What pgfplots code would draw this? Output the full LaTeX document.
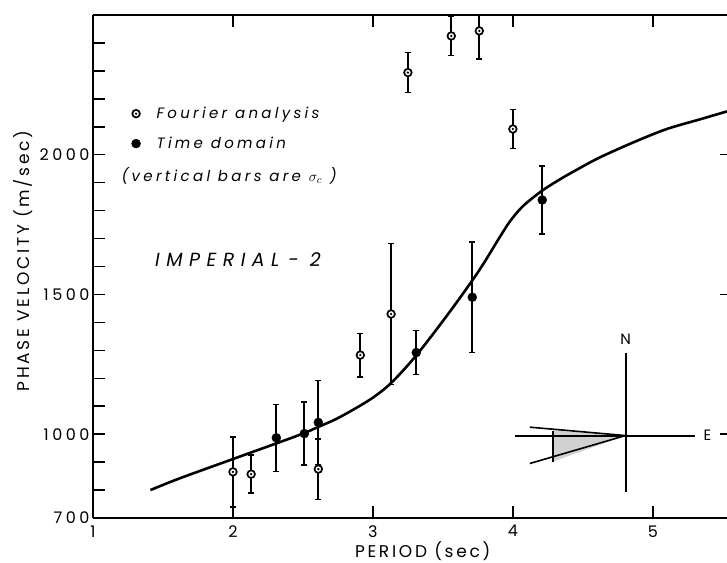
\documentclass[border=0pt]{standalone}
\usepackage{fontspec}
\setmainfont{Poppins}[LetterSpace=12]
\newfontfamily\tickfont{Poppins}[LetterSpace=22]
\usepackage{pgfplots}
\pgfplotsset{compat=1.18}

% open circle with a dot in it
\pgfdeclareplotmark{odot}{%
  \pgfpathcircle{\pgfpointorigin}{\pgfplotmarksize}%
  \pgfusepathqfillstroke
  \pgfscope
  \pgfsetfillcolor{black}%
  \pgfpathcircle{\pgfpointorigin}{0.35\pgfplotmarksize}%
  \pgfusepathqfill
  \endpgfscope
}

\pgfplotstableread{
x    y     e
2.00 865   125
2.13 857   68
2.61 875   108
2.91 1283  78
3.13 1430  253
3.25 2294  71
3.56 2425  70
3.76 2443  100
4.00 2092  69
}\tblfourier

\pgfplotstableread{
x    y     e
2.31 987   120
2.51 1002  113
2.61 1042  150
3.31 1292  79
3.71 1490  197
4.21 1838  122
}\tbltime

\pgfplotstableread{
x    y
1.41 800
1.62 842
2.00 911
2.31 967
2.50 1002
2.61 1026
2.76 1060
2.98 1124
3.13 1183
3.31 1282
3.53 1425
3.71 1550
3.80 1618
3.90 1700
3.98 1762
4.07 1815
4.20 1868
4.33 1910
4.47 1950
4.62 1990
4.86 2044
5.10 2092
5.34 2127
5.53 2155
}\tblcurve

\begin{document}
\begin{tikzpicture}
\begin{axis}[
  scale only axis, width=634pt, height=503pt,
  xmin=1, xmax=5.53, ymin=700, ymax=2500,
  axis x line*=box, axis y line*=left,
  y axis line style={-}, every outer y axis line/.append style={-},
  axis line style={line width=1.8pt},
  xtick={1,2,3,4,5}, xticklabel pos=lower,
  ytick={700,1000,1500,2000},
  minor ytick={800,900,...,2400},
  xticklabel={\tickfont\pgfmathprintnumber[assume math mode=true]{\tick}},
  yticklabel={\tickfont\pgfmathprintnumber[assume math mode=true, 1000 sep={}]{\tick}},
  tick align=inside, major tick length=12pt, minor tick length=12pt,
  every tick/.style={line width=1.5pt, black},
  ticklabel style={font=\fontsize{16}{18}\selectfont},
  xticklabel style={yshift=-4pt},
  label style={font=\fontsize{17}{20}\selectfont\addfontfeatures{LetterSpace=16}},
  xlabel={PERIOD (sec)},
  xlabel style={at={(axis description cs:0.52,0)}, anchor=center, yshift=-33pt},
  ylabel={PHASE VELOCITY (m/sec)},
  ylabel style={at={(axis description cs:0,0.511)}, anchor=center, yshift=70pt},
  legend style={draw=none, fill=none, at={(axis cs:1.224,2185)}, anchor=north west,
    font=\fontsize{15}{18}\selectfont\itshape\addfontfeatures{LetterSpace=22},
    row sep=13pt, legend cell align=left},
  error bars/error bar style={line width=1.8pt},
  error bars/error mark options={rotate=90, mark size=3pt, line width=1.5pt},
]
\addplot[line width=2.6pt, smooth, tension=0.5, forget plot] table[x=x, y=y] {\tblcurve};
\addplot[only marks, mark=odot, mark size=3.8pt, mark options={fill=white, line width=1.7pt},
  error bars/.cd, y dir=both, y explicit]
  table[x=x, y=y, y error=e] {\tblfourier};
\addlegendentry{\hspace{14pt}Fourier analysis}
\addplot[only marks, mark=*, mark size=4.5pt,
  error bars/.cd, y dir=both, y explicit]
  table[x=x, y=y, y error=e] {\tbltime};
\addlegendentry{\hspace{14pt}Time domain}
\addlegendimage{empty legend}
\addlegendentry{\hspace{-21pt}(vertical bars are $\sigma_c$ )}

\node[font=\fontsize{19}{22}\selectfont\itshape\addfontfeatures{LetterSpace=34}] at (axis cs:2.036,1625) {IMPERIAL\kern 9pt-\kern 11pt2};

% right-hand ticks
\draw[line width=1.5pt] (axis cs:5.53,1000) -- (axis cs:5.48,1000);
\draw[line width=1.5pt] (axis cs:5.53,1500) -- (axis cs:5.48,1500);
\draw[line width=1.5pt] (axis cs:5.53,2000) -- (axis cs:5.48,2000);

% azimuth inset
\fill[black!18] (axis cs:4.286,1013) -- (axis cs:4.805,995) -- (axis cs:4.286,902) -- cycle;
\draw[line width=1.3pt] (axis cs:4.286,1013) -- (axis cs:4.286,902);
\draw[line width=1.6pt] (axis cs:4.121,1025) -- (axis cs:4.805,995) -- (axis cs:4.121,895);
\draw[line width=2pt] (axis cs:4.014,995) -- (axis cs:5.30,995);
\draw[line width=2pt] (axis cs:4.805,1289) -- (axis cs:4.805,793);
\node[font=\fontsize{15}{18}\selectfont] at (axis cs:4.805,1340) {N};
\node[font=\fontsize{15}{18}\selectfont] at (axis cs:5.39,995) {E};
\end{axis}
\pgfresetboundingbox
\path[use as bounding box] ([xshift=-93pt,yshift=-45pt]current axis.south west)
  rectangle ([yshift=15pt]current axis.north east);
\end{tikzpicture}
\end{document}
